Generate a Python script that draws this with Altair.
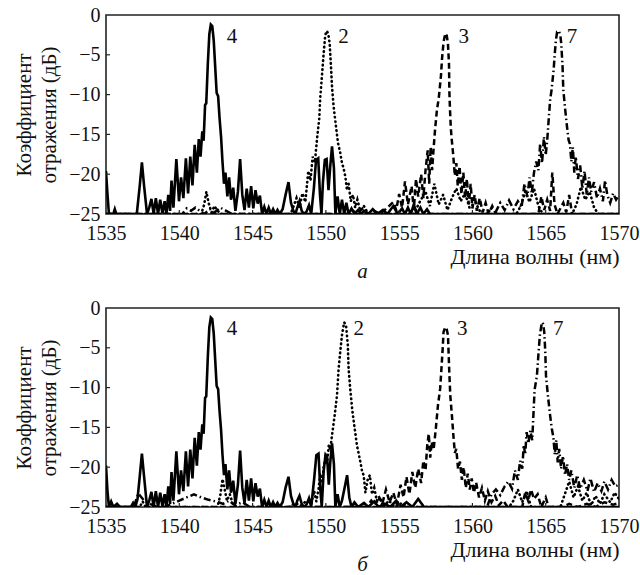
import altair as alt
import pandas as pd

# ---------------- data ----------------
X_TICKS = [1535, 1540, 1545, 1550, 1555, 1560, 1565, 1570]
Y_TICKS = [0, -5, -10, -15, -20, -25]
INNER_X = [1540, 1545, 1550, 1555, 1560, 1565]
INNER_Y = [-5, -10, -15, -20]

# panel а
A4 = [(1535.0,-19.6),(1535.1,-22.5),(1535.2,-25),(1535.5,-25),(1535.6,-24.4),(1535.7,-25),(1537.1,-25),
      (1537.3,-21.5),(1537.45,-18.5),(1537.6,-21.5),(1537.8,-25),(1537.95,-24.2),(1538.1,-23.1),(1538.25,-25),
      (1538.4,-23),(1538.55,-25),(1538.7,-23.2),(1538.85,-24.9),(1539.0,-23.4),(1539.12,-25),(1539.25,-22.6),
      (1539.37,-24.6),(1539.47,-20.8),(1539.6,-24.2),(1539.8,-18.1),(1539.98,-23.4),(1540.12,-20.4),(1540.28,-23),
      (1540.45,-18),(1540.6,-22.4),(1540.75,-17.8),(1540.9,-21.4),(1541.05,-16.3),(1541.2,-19.8),(1541.33,-15.6),
      (1541.45,-17.8),(1541.57,-14.6),(1541.66,-15.8),(1541.76,-11.3),(1541.84,-11.1),(1541.95,-6.0),(1542.05,-2.4),
      (1542.15,-1.2),(1542.25,-1.4),(1542.35,-3.2),(1542.45,-6.5),(1542.55,-9.8),(1542.65,-10.2),(1542.75,-13),
      (1542.85,-15.3),(1542.95,-18.5),(1543.05,-21.2),(1543.15,-19.8),(1543.28,-22.8),(1543.4,-20.4),(1543.53,-23.2),
      (1543.68,-21.7),(1543.83,-24.6),(1544.0,-22.2),(1544.15,-18.1),(1544.3,-22.6),(1544.45,-24.5),(1544.6,-21.8),
      (1544.75,-24.2),(1544.9,-21.5),(1545.05,-24.3),(1545.2,-22),(1545.35,-23.7),(1545.5,-22.7),(1545.65,-25),
      (1545.8,-24.1),(1545.95,-25),(1546.1,-24.2),(1546.25,-25),(1546.4,-24.4),(1546.55,-25),(1546.7,-24.5),
      (1546.85,-25),(1547.05,-24.4),(1547.25,-22.6),(1547.45,-21),(1547.62,-23.6),(1547.78,-24.6),(1547.92,-25),
      (1548.05,-24.2),(1548.2,-23.4),(1548.35,-24.6),(1548.5,-25),(1548.68,-24.7),(1548.85,-23.9),(1549.0,-25),
      (1549.18,-21.8),(1549.33,-18.2),(1549.48,-18),(1549.6,-22.6),(1549.7,-25),(1549.8,-21),(1549.93,-18.2),
      (1550.05,-18.1),(1550.18,-22),(1550.3,-19),(1550.42,-16.5),(1550.55,-19.2),(1550.65,-25),(1550.8,-22.8),
      (1550.95,-25),(1551.1,-23.2),(1551.25,-25),(1551.4,-23.6),(1551.55,-25),(1551.75,-24.3),(1551.95,-25),
      (1552.2,-24.5),(1552.4,-25),(1552.6,-24.6),(1552.9,-25),(1553.2,-24.4),(1553.5,-25),(1553.9,-24.5),
      (1554.2,-25),(1554.6,-24.0),(1554.9,-25),(1555.2,-24.3),(1555.4,-25),(1555.6,-24.2),(1555.8,-25),
      (1556.0,-23.8),(1556.2,-25),(1556.45,-24.2),(1556.65,-25),(1556.9,-24.4),(1557.1,-25),(1570.0,-25)]

A2 = [(1535.0,-25),(1541.5,-25),(1541.7,-23.8),(1541.85,-22.2),(1542.0,-23.6),(1542.2,-24.8),(1542.4,-24.0),
      (1542.6,-24.6),(1542.9,-25),(1547.6,-25),(1547.8,-24),(1548.0,-23),(1548.2,-24.2),(1548.4,-22.4),
      (1548.6,-23.5),(1548.8,-19.6),(1548.95,-20.8),(1549.1,-17.8),(1549.25,-18.5),(1549.4,-15.5),(1549.55,-13),
      (1549.62,-10.3),(1549.73,-7.7),(1549.85,-4.8),(1549.96,-2.5),(1550.07,-2.0),(1550.17,-2.4),(1550.26,-3.6),
      (1550.35,-6.5),(1550.42,-9),(1550.53,-11.5),(1550.69,-14),(1550.83,-16.1),(1550.98,-17.3),(1551.1,-18.6),
      (1551.2,-19.2),(1551.33,-20.3),(1551.44,-22),(1551.55,-21.2),(1551.7,-23.4),(1551.85,-22.6),(1552.0,-24.2),
      (1552.15,-23.2),(1552.35,-24.6),(1552.6,-24),(1552.9,-25),(1556.0,-25),(1556.4,-23.5),(1556.8,-22.2),
      (1557.1,-24),(1557.4,-21.2),(1557.7,-23.8),(1558.0,-22.6),(1558.3,-24.5),(1558.6,-23),(1558.9,-21.8),
      (1559.2,-23.4),(1559.5,-22.4),(1559.8,-24.2),(1560.2,-23.5),(1560.6,-25),(1563.0,-25),(1563.3,-24),
      (1563.6,-22.2),(1563.9,-23.5),(1564.2,-21.8),(1564.5,-24),(1564.8,-25),(1566.8,-25),(1567.1,-23.8),
      (1567.4,-21.6),(1567.7,-23.2),(1568.0,-22.2),(1568.3,-24.2),(1568.6,-25),(1570.0,-25)]

A3 = [(1535.0,-25),(1551.5,-25),(1551.8,-24.5),(1552.1,-25),(1552.5,-24.3),(1552.9,-25),(1553.3,-24.6),
      (1553.7,-25),(1554.2,-24.2),(1554.6,-23.5),(1554.8,-24.5),(1555.0,-22.5),(1555.2,-24.2),(1555.4,-20.9),
      (1555.6,-23.8),(1555.85,-21.5),(1556.0,-24.5),(1556.15,-20.6),(1556.3,-22.8),(1556.5,-20),(1556.65,-23),
      (1556.8,-19.5),(1556.95,-17),(1557.05,-21.2),(1557.15,-16.6),(1557.25,-19.5),(1557.35,-16.8),(1557.45,-14.4),
      (1557.58,-11.9),(1557.7,-10.5),(1557.85,-7.7),(1557.93,-5.4),(1558.03,-3.4),(1558.15,-2.3),(1558.25,-2.6),
      (1558.33,-3.6),(1558.4,-6.1),(1558.43,-9.8),(1558.47,-11.9),(1558.52,-14),(1558.57,-15.3),(1558.68,-17.4),
      (1558.8,-20.2),(1558.9,-18.6),(1559.0,-21.5),(1559.12,-19),(1559.25,-22.5),(1559.38,-19.8),(1559.5,-23),
      (1559.62,-20.6),(1559.75,-23.8),(1559.88,-21.2),(1560.0,-24.3),(1560.15,-22.6),(1560.3,-24.6),(1560.5,-23),
      (1560.7,-24.8),(1560.9,-23.6),(1561.1,-25),(1561.35,-24),(1561.6,-25),(1564.5,-25),(1564.7,-22.8),
      (1564.9,-24.5),(1565.1,-23.2),(1565.3,-24.6),(1565.45,-19.8),(1565.6,-23.8),(1565.8,-25),(1566.2,-23.6),
      (1566.4,-24.8),(1566.6,-22.6),(1566.8,-25),(1570.0,-25)]

A7 = [(1535.0,-25),(1540.2,-25),(1540.5,-24.3),(1540.8,-24.6),(1541.1,-24.2),(1541.4,-24.6),(1541.7,-25),
      (1542.1,-24.4),(1542.4,-24.8),(1542.8,-24.2),(1543.2,-24.6),(1543.6,-25),(1561.0,-25),(1561.3,-24.2),
      (1561.6,-24.7),(1561.9,-23.6),(1562.2,-24.5),(1562.5,-23.3),(1562.8,-24.4),(1563.1,-23.4),(1563.35,-24.2),
      (1563.55,-21.2),(1563.75,-22.8),(1563.9,-20.4),(1564.05,-22.4),(1564.2,-19.8),(1564.35,-18.4),(1564.5,-19.5),
      (1564.62,-16.2),(1564.75,-18.6),(1564.88,-15.3),(1565.0,-17.6),(1565.1,-15.8),(1565.2,-13.2),(1565.3,-10.7),
      (1565.4,-9.4),(1565.54,-6.9),(1565.62,-4.8),(1565.7,-3.1),(1565.78,-2.1),(1565.9,-2.0),(1566.0,-2.6),
      (1566.06,-3.6),(1566.15,-6.5),(1566.2,-9.4),(1566.33,-11.9),(1566.45,-14),(1566.56,-15.7),(1566.65,-16.2),
      (1566.75,-18.4),(1566.85,-16.6),(1566.95,-19.8),(1567.05,-17.8),(1567.2,-20.6),(1567.35,-18.9),(1567.5,-21.8),
      (1567.65,-19.6),(1567.8,-22.6),(1567.95,-20.4),(1568.1,-22.2),(1568.3,-21),(1568.5,-23),(1568.7,-21.8),
      (1568.9,-23.4),(1569.05,-20.8),(1569.2,-22.6),(1569.4,-23.6),(1569.6,-22.4),(1569.8,-23.2),(1570.0,-22.6)]

# panel б
B4 = [(1535.0,-19.8),(1535.1,-23),(1535.2,-25),(1535.35,-24.3),(1535.5,-25),(1535.75,-24.6),(1535.95,-25),
      (1536.7,-25),(1536.85,-24.5),(1537.0,-25),(1537.15,-24),(1537.3,-21.2),(1537.45,-18.3),(1537.6,-21.2),
      (1537.8,-25),(1537.95,-24.2),(1538.1,-23.1),(1538.25,-25),(1538.4,-23),(1538.55,-25),(1538.7,-23.2),
      (1538.85,-24.9),(1539.0,-23.4),(1539.12,-25),(1539.25,-22.4),(1539.37,-24.6),(1539.47,-20.6),(1539.6,-24.2),
      (1539.8,-18.0),(1539.98,-23.4),(1540.12,-20.4),(1540.28,-23),(1540.45,-18),(1540.6,-22.4),(1540.75,-17.8),
      (1540.9,-21.4),(1541.05,-16.3),(1541.2,-19.8),(1541.33,-15.6),(1541.45,-17.8),(1541.57,-14.6),(1541.66,-15.8),
      (1541.76,-11.3),(1541.84,-11.1),(1541.95,-6.0),(1542.05,-2.4),(1542.15,-1.2),(1542.25,-1.4),(1542.35,-3.2),
      (1542.45,-6.5),(1542.55,-9.8),(1542.65,-10.2),(1542.75,-13),(1542.85,-15.3),(1542.95,-18.5),(1543.05,-21.0),
      (1543.15,-19.6),(1543.28,-22.8),(1543.4,-20.4),(1543.53,-23.2),(1543.68,-21.7),(1543.83,-24.6),(1544.0,-22.2),
      (1544.15,-17.9),(1544.3,-22.6),(1544.45,-24.5),(1544.6,-21.6),(1544.75,-24.2),(1544.9,-21.4),(1545.05,-24.3),
      (1545.2,-22),(1545.35,-23.7),(1545.5,-22.7),(1545.65,-25),(1545.8,-24.1),(1545.95,-25),(1546.1,-24.2),
      (1546.25,-25),(1546.4,-24.4),(1546.55,-25),(1546.7,-24.5),(1546.85,-25),(1547.05,-24.4),(1547.25,-22.6),
      (1547.45,-21.2),(1547.62,-23.6),(1547.78,-24.6),(1547.92,-25),(1548.05,-24.2),(1548.2,-23.6),(1548.35,-24.6),
      (1548.5,-25),(1548.68,-24.7),(1548.85,-23.9),(1549.0,-25),(1549.2,-21.5),(1549.35,-18.5),(1549.5,-18.3),
      (1549.62,-22.8),(1549.72,-25),(1549.85,-20.5),(1549.98,-18.4),(1550.08,-18.6),(1550.2,-22.2),(1550.3,-19.4),
      (1550.42,-17.0),(1550.55,-19.6),(1550.65,-25),(1550.8,-23.4),(1550.95,-25),(1551.1,-24.2),(1551.3,-22.4),
      (1551.45,-21.0),(1551.6,-23.8),(1551.75,-25),(1551.95,-24.4),(1552.2,-25),(1552.6,-24.5),(1552.9,-25),
      (1553.3,-24.3),(1553.6,-25),(1554.0,-24.6),(1554.4,-25),(1554.8,-24.2),(1555.1,-25),(1555.5,-24.4),
      (1555.9,-25),(1556.3,-24.0),(1556.7,-25),(1570.0,-25)]

B2 = [(1535.0,-25),(1537.3,-25),(1537.5,-24.3),(1537.7,-25),(1542.6,-25),(1542.8,-23.5),(1542.95,-21.5),
      (1543.1,-22.8),(1543.25,-24.2),(1543.45,-23.4),(1543.65,-24.6),(1543.9,-25),(1547.5,-25),(1547.9,-24.5),
      (1548.3,-24.8),(1548.7,-24.2),(1549.0,-24.6),(1549.2,-23),(1549.35,-24.3),(1549.5,-22.7),(1549.62,-20.8),
      (1549.75,-22),(1549.85,-20),(1549.96,-18.9),(1550.08,-19.5),(1550.2,-17.2),(1550.3,-17.8),(1550.42,-16),
      (1550.6,-13.5),(1550.76,-11),(1550.87,-7.6),(1550.98,-5.5),(1551.1,-3.4),(1551.25,-1.8),(1551.38,-2.2),
      (1551.5,-4.7),(1551.55,-7.6),(1551.66,-10.1),(1551.82,-13.1),(1552.0,-15.6),(1552.12,-17.2),(1552.25,-18.4),
      (1552.35,-19.3),(1552.48,-20.6),(1552.58,-21),(1552.7,-23.2),(1552.85,-21.6),(1553.0,-21),(1553.15,-23.4),
      (1553.3,-22.6),(1553.5,-24.4),(1553.7,-23.8),(1553.9,-25),(1554.3,-24.2),(1554.7,-25),(1555.2,-24.5),
      (1555.6,-25),(1562.5,-25),(1562.8,-24.2),(1563.1,-22.8),(1563.4,-24.4),(1563.7,-23),(1564.0,-25),
      (1566.0,-25),(1566.3,-23.4),(1566.6,-21.8),(1566.9,-23.8),(1567.2,-22.4),(1567.5,-24.2),(1567.8,-23.2),
      (1568.1,-24.8),(1568.4,-23.6),(1568.7,-24.6),(1569.0,-23.4),(1569.4,-24.4),(1569.7,-23.2),(1570.0,-24)]

B3 = [(1535.0,-25),(1552.8,-25),(1553.1,-24.2),(1553.35,-24.8),(1553.6,-23.6),(1553.85,-24.6),(1554.1,-22.8),
      (1554.35,-24.4),(1554.6,-23.2),(1554.85,-24.7),(1555.1,-22.2),(1555.3,-23.8),(1555.5,-21.2),(1555.7,-23.4),
      (1555.9,-20.6),(1556.1,-22.6),(1556.3,-20.2),(1556.5,-22),(1556.65,-19.2),(1556.8,-20.4),(1556.92,-17.2),
      (1557.02,-15.8),(1557.12,-18.8),(1557.22,-16.8),(1557.35,-17.8),(1557.5,-15.2),(1557.65,-12.2),(1557.8,-10.1),
      (1557.9,-7.2),(1557.97,-5.1),(1558.03,-3.0),(1558.15,-2.4),(1558.25,-2.7),(1558.33,-3.4),(1558.38,-5.9),
      (1558.42,-8.0),(1558.49,-11),(1558.6,-13.5),(1558.7,-16),(1558.8,-18.2),(1558.9,-17.7),(1559.02,-20.2),
      (1559.15,-19.3),(1559.28,-21.6),(1559.4,-20),(1559.55,-22.6),(1559.68,-20.8),(1559.82,-22.8),(1559.95,-21.4),
      (1560.1,-23.2),(1560.25,-21.9),(1560.45,-23.8),(1560.65,-22.6),(1560.85,-24.2),(1561.05,-23),(1561.3,-24.4),
      (1561.55,-23.6),(1561.8,-24.8),(1562.1,-24.2),(1562.4,-25),(1563.4,-25),(1563.6,-23.2),(1563.8,-24.2),
      (1564.0,-22.8),(1564.2,-24),(1564.45,-23.4),(1564.7,-25),(1565.0,-23.8),(1565.2,-25),(1566.2,-25),
      (1566.6,-24.6),(1567.2,-25),(1567.8,-24.6),(1568.4,-25),(1569.0,-24.4),(1569.6,-24.7),(1570.0,-24.5)]

B7 = [(1535.0,-25),(1536.9,-25),(1537.2,-23.3),(1537.6,-24.2),(1538.0,-24.6),(1538.5,-25),(1539.0,-25),
      (1539.5,-24.6),(1540.0,-24.2),(1540.5,-23.8),(1541.0,-23.4),(1541.5,-23.8),(1542.0,-24.1),(1542.5,-24.3),
      (1543.0,-24.6),(1543.4,-24.2),(1543.8,-24.8),(1544.3,-24.4),(1544.8,-25),(1561.0,-25),(1561.3,-23.4),
      (1561.6,-22.8),(1561.9,-23.5),(1562.2,-22.4),(1562.45,-21.8),(1562.7,-22.7),(1562.9,-20.4),(1563.1,-21.6),
      (1563.25,-19.2),(1563.4,-20.2),(1563.5,-17.2),(1563.6,-18.4),(1563.7,-15.6),(1563.82,-17),(1563.95,-15.4),
      (1564.08,-16.6),(1564.17,-13.1),(1564.24,-10.3),(1564.4,-8.5),(1564.5,-5.9),(1564.6,-3.4),(1564.74,-1.8),
      (1564.82,-2.0),(1564.9,-3.0),(1564.97,-5.5),(1565.02,-8.5),(1565.15,-11),(1565.3,-13.5),(1565.42,-15.2),
      (1565.52,-16.2),(1565.62,-18.4),(1565.72,-16.6),(1565.82,-19.4),(1565.92,-17.7),(1566.05,-20.2),(1566.18,-18.6),
      (1566.32,-21),(1566.46,-19.6),(1566.6,-21.6),(1566.75,-20.4),(1566.95,-22.6),(1567.15,-21),(1567.35,-22.7),
      (1567.6,-21.6),(1567.85,-23),(1568.05,-21.4),(1568.3,-23.1),(1568.55,-22),(1568.8,-23),(1569.0,-21.8),
      (1569.25,-22.8),(1569.5,-21.6),(1569.75,-22.4),(1570.0,-22.2)]

LABELS_A = ["4", "2", "3", "7"]
LABEL_X_A = [1543.6, 1551.2, 1559.4, 1566.8]
LABEL_Y_A = [-2.8, -2.8, -2.8, -2.8]
LABELS_B = ["4", "2", "3", "7"]
LABEL_X_B = [1543.6, 1552.25, 1559.3, 1565.85]
LABEL_Y_B = [-2.7, -2.7, -2.7, -2.7]

# ---------------- chart ----------------
FONT = "Liberation Serif, Times New Roman, serif"
W, H = 513, 199

xs = alt.Scale(domain=[1535, 1570], nice=False, zero=False)
ys = alt.Scale(domain=[-25, 0], nice=False, zero=False)

xaxis = alt.Axis(values=X_TICKS, format="d", title="Длина волны (нм)", titleAnchor="end",
                 titleFont=FONT, titleFontSize=22, titleFontWeight="normal", titleColor="#111",
                 titlePadding=3, labelFont=FONT, labelFontSize=20, labelColor="#111",
                 labelPadding=9, labelFlush=False, labelOverlap=False, ticks=False, tickSize=0,
                 grid=False, domain=False)
yaxis = alt.Axis(values=Y_TICKS, format="d", title=["Коэффициент", "отражения (дБ)"],
                 titleFont=FONT, titleFontSize=21, titleFontWeight="normal", titleColor="#111",
                 titleLineHeight=25, titlePadding=9, labelFont=FONT, labelFontSize=20,
                 labelColor="#111", labelPadding=6, labelFlush=False, labelOverlap=False,
                 ticks=False, tickSize=0, grid=False, domain=False)

STYLES = {
    "4": dict(strokeWidth=2.6),
    "2": dict(strokeWidth=2.6, strokeDash=[0.5, 4], strokeCap="round"),
    "3": dict(strokeWidth=2.5, strokeDash=[6, 3.5]),
    "7": dict(strokeWidth=2.5, strokeDash=[7, 3, 1.5, 3]),
}

X = lambda f: alt.X(f, scale=xs, axis=xaxis)
Y = lambda f: alt.Y(f, scale=ys, axis=yaxis)


def line(pts, key):
    df = pd.DataFrame(pts, columns=["wl", "db"])
    df["i"] = range(len(df))
    return alt.Chart(df).mark_line(color="black", clip=True, **STYLES[key]).encode(
        x=X("wl:Q"), y=Y("db:Q"), order="i:Q")


def panel(curves, labels, lx, ly, letter):
    layers = [line(pts, key) for key, pts in curves]
    lab = pd.DataFrame({"t": labels, "x": lx, "y": ly})
    layers.append(alt.Chart(lab).mark_text(font=FONT, fontSize=21, color="#111", align="center",
                                           baseline="middle").encode(
        x=X("x:Q"), y=Y("y:Q"), text="t:N"))
    tx = pd.DataFrame({"t": INNER_X})
    layers.append(alt.Chart(tx).mark_rule(color="#222", strokeWidth=1.2).encode(
        x=X("t:Q"), y=alt.value(H), y2=alt.value(H - 4)))
    ty = pd.DataFrame({"t": INNER_Y})
    layers.append(alt.Chart(ty).mark_rule(color="#222", strokeWidth=1.2).encode(
        y=Y("t:Q"), x=alt.value(0), x2=alt.value(4)))
    return alt.layer(*layers).properties(
        width=W, height=H,
        title=alt.TitleParams(letter, orient="bottom", anchor="middle", font=FONT,
                              fontStyle="italic", fontSize=21, fontWeight="normal",
                              color="#111", offset=-6),
    )


pa = panel([("4", A4), ("2", A2), ("3", A3), ("7", A7)], LABELS_A, LABEL_X_A, LABEL_Y_A, "а")
pb = panel([("4", B4), ("2", B2), ("3", B3), ("7", B7)], LABELS_B, LABEL_X_B, LABEL_Y_B, "б")

chart = alt.vconcat(pa, pb, spacing=14).properties(
    padding={"left": 12, "top": 4, "right": 0, "bottom": 0},
    background="white",
).configure_view(stroke="#222", strokeWidth=1.6)

chart.save("out.html", embed_options={"renderer": "svg", "actions": False})
